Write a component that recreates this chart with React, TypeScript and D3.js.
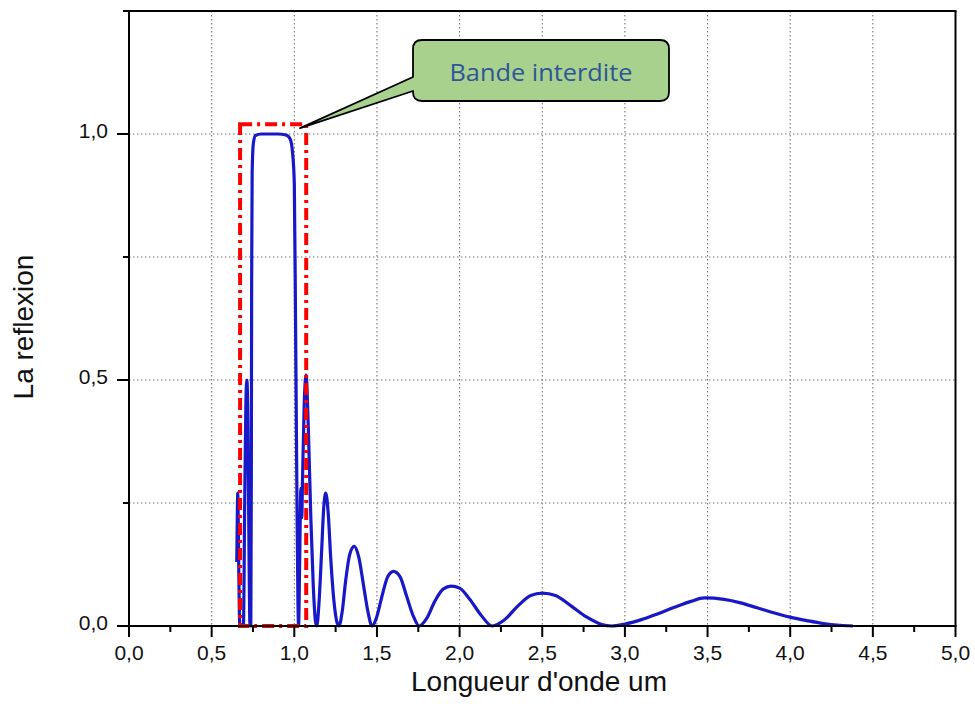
import React from "react";
import * as d3 from "d3";

// Wavelength (µm) and reflection values
const wavelength = [
  0.652, 0.655, 0.658, 0.663, 0.668, 0.672, 0.692, 0.700, 0.707, 0.713, 0.719, 0.726, 0.732, 0.737,
  0.740, 0.742, 0.745, 0.752, 0.765, 0.80, 0.90, 0.95, 0.975, 0.99, 1.000, 1.008, 1.015, 1.022,
  1.026, 1.032, 1.040, 1.045, 1.050, 1.060, 1.071, 1.085, 1.10, 1.115, 1.128, 1.136, 1.15, 1.165,
  1.178, 1.190, 1.205, 1.22, 1.24, 1.26, 1.27, 1.29, 1.31, 1.335, 1.362, 1.39, 1.42, 1.445, 1.47,
  1.50, 1.53, 1.565, 1.60, 1.64, 1.68, 1.72, 1.755, 1.80, 1.85, 1.90, 1.95, 2.00, 2.06, 2.13, 2.197,
  2.27, 2.35, 2.43, 2.50, 2.58, 2.67, 2.77, 2.86, 2.92, 3.00, 3.10, 3.20, 3.30, 3.40, 3.48, 3.60,
  3.70, 3.80, 3.90, 4.00, 4.10, 4.20, 4.30, 4.38,
];
const reflexion = [
  0.13, 0.22, 0.27, 0.15, 0.02, 0.0, 0.0, 0.25, 0.45, 0.50, 0.42, 0.15, 0.0, 0.0,
  0.3, 0.7, 0.92, 0.98, 0.997, 1.0, 1.0, 0.998, 0.99, 0.96, 0.9, 0.6, 0.3, 0.05,
  0.0, 0.12, 0.28, 0.22, 0.30, 0.45, 0.51, 0.40, 0.22, 0.08, 0.01, 0.0, 0.05, 0.15,
  0.24, 0.27, 0.23, 0.14, 0.05, 0.005, 0.0, 0.03, 0.09, 0.145, 0.162, 0.14, 0.08, 0.03, 0.0,
  0.02, 0.06, 0.10, 0.111, 0.10, 0.06, 0.02, 0.0, 0.015, 0.05, 0.075, 0.081, 0.077, 0.055, 0.022, 0.0,
  0.012, 0.04, 0.062, 0.067, 0.062, 0.042, 0.018, 0.003, 0.0, 0.004, 0.013, 0.025, 0.038, 0.050, 0.057, 0.054,
  0.047, 0.037, 0.027, 0.018, 0.011, 0.005, 0.0015, 0.0,
];

const xMajorTicks = [0, 0.5, 1, 1.5, 2, 2.5, 3, 3.5, 4, 4.5, 5];
const xMinorTicks = [0.25, 0.75, 1.25, 1.75, 2.25, 2.75, 3.25, 3.75, 4.25, 4.75];
const yMajorTicks = [0, 0.5, 1.0];
const yMinorTicks = [0.25, 0.75];
const xGrid = [0.5, 1, 1.5, 2, 2.5, 3, 3.5, 4, 4.5];
const yGrid = [0.25, 0.5, 0.75, 1.0];

// band gap highlight (data coordinates)
const bandX = [0.672, 1.072];
const bandY = [0, 1.02];
const calloutTip = [1.035, 1.012];
const calloutText = "Bande interdite";
const xTitle = "Longueur d'onde um";
const yTitle = "La reflexion";

export default function App() {
  const W = 975, H = 720;
  const left = 129, right = 955.5, top = 11, bottom = 626;
  const x = d3.scaleLinear().domain([0, 5]).range([left, right]);
  const y = d3.scaleLinear().domain([0, 1.25]).range([bottom, top]);
  const fmt = (v: number) => d3.format(".1f")(v).replace(".", ",");

  const pts = wavelength.map((w, i) => [w, reflexion[i]] as [number, number]);
  const line = d3
    .line<[number, number]>()
    .x((d) => x(d[0]))
    .y((d) => y(d[1]))
    .curve(d3.curveMonotoneX);

  const font = "'Liberation Sans', Arial, sans-serif";

  // callout shape
  const bx0 = 413, bx1 = 669, by0 = 40, by1 = 101, r = 9;
  const tx = x(calloutTip[0]), ty = y(calloutTip[1]);
  const callout = `M${bx0 + r},${by0} L${bx1 - r},${by0} Q${bx1},${by0} ${bx1},${by0 + r} L${bx1},${by1 - r} Q${bx1},${by1} ${bx1 - r},${by1} L${bx0 + r},${by1} Q${bx0},${by1} ${bx0},${by1 - r} L${bx0},91 L${tx},${ty} L${bx0},77 L${bx0},${by0 + r} Q${bx0},${by0} ${bx0 + r},${by0} Z`;

  return (
    <svg
      width={W}
      height={H}
      style={{ position: "absolute", left: 0, top: 0, background: "#fff" }}
    >
      <rect x={0} y={0} width={W} height={H} fill="#fff" />
      {/* grid */}
      {xGrid.map((g) => (
        <line key={"gx" + g} x1={x(g)} x2={x(g)} y1={top} y2={bottom} stroke="#666" strokeWidth={1} strokeDasharray="1.5,2.5" />
      ))}
      {yGrid.map((g) => (
        <line key={"gy" + g} x1={left} x2={right} y1={y(g)} y2={y(g)} stroke="#777" strokeWidth={1} strokeDasharray="1.5,2.5" />
      ))}

      {/* curve */}
      <path d={line(pts) || ""} fill="none" stroke="#1818c8" strokeWidth={3.2} strokeLinejoin="round" />

      {/* band highlight */}
      <rect
        x={x(bandX[0])}
        y={y(bandY[1])}
        width={x(bandX[1]) - x(bandX[0])}
        height={y(bandY[0]) - y(bandY[1])}
        fill="none"
        stroke="#ff0000"
        strokeWidth={4}
        strokeDasharray="12,5,3,5"
      />

      {/* frame */}
      <line x1={123} x2={right + 1} y1={top} y2={top} stroke="#000" strokeWidth={2} />
      <line x1={right} x2={right} y1={top} y2={bottom} stroke="#000" strokeWidth={2} />
      <line x1={left} x2={left} y1={top} y2={bottom + 1} stroke="#000" strokeWidth={2} />
      <line x1={left - 1} x2={right + 1} y1={bottom} y2={bottom} stroke="#000" strokeWidth={2} />

      {/* x ticks */}
      {xMajorTicks.map((t) => (
        <g key={"xt" + t}>
          <line x1={x(t)} x2={x(t)} y1={bottom} y2={bottom + 11} stroke="#000" strokeWidth={2} />
          <text x={x(t)} y={660} textAnchor="middle" fontFamily={font} fontSize={21} fill="#111">
            {fmt(t)}
          </text>
        </g>
      ))}
      {xMinorTicks.map((t) => (
        <line key={"xm" + t} x1={x(t)} x2={x(t)} y1={bottom} y2={bottom + 6} stroke="#000" strokeWidth={2} />
      ))}

      {/* y ticks */}
      {yMajorTicks.map((t) => (
        <g key={"yt" + t}>
          <line x1={left - 12} x2={left} y1={y(t)} y2={y(t)} stroke="#000" strokeWidth={2} />
          <text x={108} y={y(t) + 4} textAnchor="end" fontFamily={font} fontSize={21} fill="#111">
            {fmt(t)}
          </text>
        </g>
      ))}
      {yMinorTicks.map((t) => (
        <line key={"ym" + t} x1={left - 6} x2={left} y1={y(t)} y2={y(t)} stroke="#000" strokeWidth={2} />
      ))}

      {/* titles */}
      <text x={539} y={691} textAnchor="middle" fontFamily={font} fontSize={28} fill="#111">
        {xTitle}
      </text>
      <text
        transform={`translate(33,327) rotate(-90)`}
        textAnchor="middle"
        fontFamily={font}
        fontSize={28}
        fill="#111"
      >
        {yTitle}
      </text>

      {/* callout */}
      <path d={callout} fill="#a9d18e" stroke="#000" strokeWidth={1.8} strokeLinejoin="round" />
      <text
        x={541}
        y={81}
        textAnchor="middle"
        fontFamily="'Open Sans', sans-serif"
        fontSize={24}
        fill="#2f5597"
        textLength={183}
        lengthAdjust="spacingAndGlyphs"
      >
        {calloutText}
      </text>
    </svg>
  );
}
